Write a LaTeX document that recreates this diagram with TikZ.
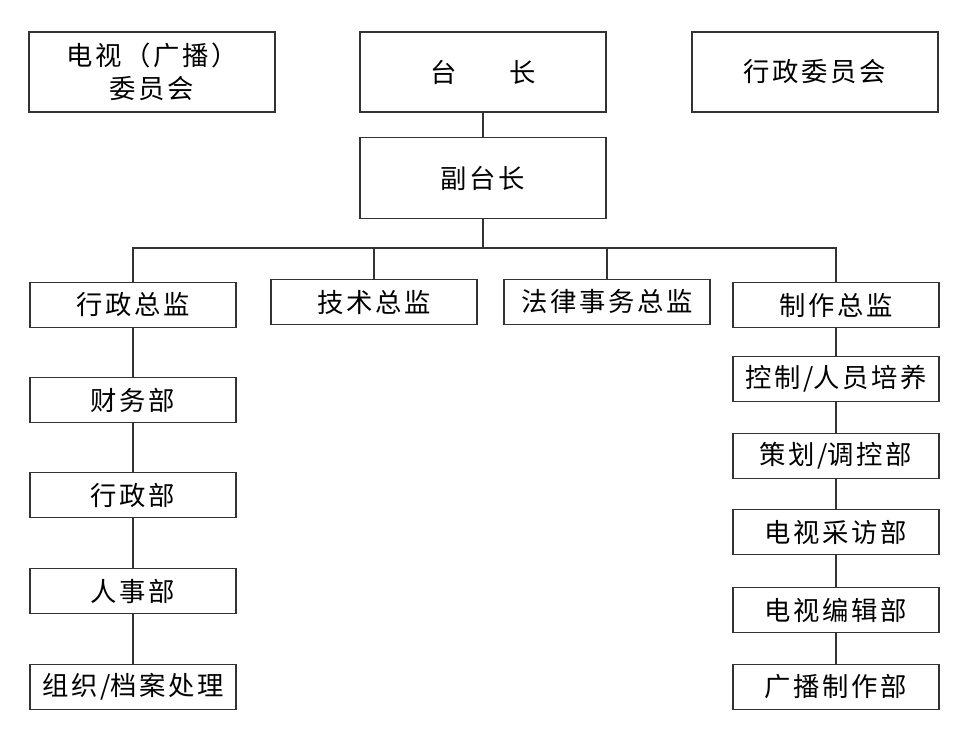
\documentclass[tikz,border=0pt]{standalone}
\usepackage{fontspec}
\newfontfamily\cjk[LetterSpace=10]{Noto Sans CJK SC}
\usepackage{tikz}
\usetikzlibrary{positioning}

\begin{document}
\begin{tikzpicture}[x=0.02cm, y=-0.02cm,
    box/.style={draw=black!80, line width=0.65pt, font=\cjk\fontsize{15}{19}\selectfont,
        minimum width=4.12cm, minimum height=0.89cm, inner sep=0pt, align=center},
    bigbox/.style={box, minimum width=4.92cm, minimum height=1.6cm},
    link/.style={draw=black!80, line width=0.65pt}]
    \useasboundingbox (0,0) rectangle (961,753);
    % top row
    \node[bigbox] (tvwyh) at (152,72) {电视（广播）\\委员会};
    \node[bigbox] (tz) at (483,72) {台\hspace{2em}长};
    \node[bigbox] (xzwyh) at (815,72) {行政委员会};
    \node[bigbox, minimum height=1.62cm] (ftz) at (483,178) {副台长};
    % directors
    \node[box] (xzzj) at (133,305) {行政总监};
    \node[box] (jszj) at (374,302) {技术总监};
    \node[box] (flzj) at (607,302) {法律事务总监};
    \node[box] (zzzj) at (836,305) {制作总监};
    \coordinate (bus) at (483,248);
    \draw[link] (tz) -- (ftz);
    \draw[link] (ftz) -- (bus);
    \foreach \n in {xzzj,jszj,flzj,zzzj}
        \draw[link] (bus) -| (\n.north);
    % left column
    \foreach \n/\y/\t/\p in {cwb/400/财务部/xzzj, xzb/495/行政部/cwb,
                            rsb/591/人事部/xzb, zzda/687/{组织\slash 档案处理}/rsb} {
        \node[box] (\n) at (133,\y) {\t};
        \draw[link] (\p) -- (\n);
    }
    % right column
    \foreach \n/\y/\t/\p in {kzpy/379/{控制\slash 人员培养}/zzzj, chtk/456/{策划\slash 调控部}/kzpy,
                            cfb/532/电视采访部/chtk, bjb/610/电视编辑部/cfb,
                            gbzz/687/广播制作部/bjb} {
        \node[box] (\n) at (836,\y) {\t};
        \draw[link] (\p) -- (\n);
    }
\end{tikzpicture}
\end{document}
